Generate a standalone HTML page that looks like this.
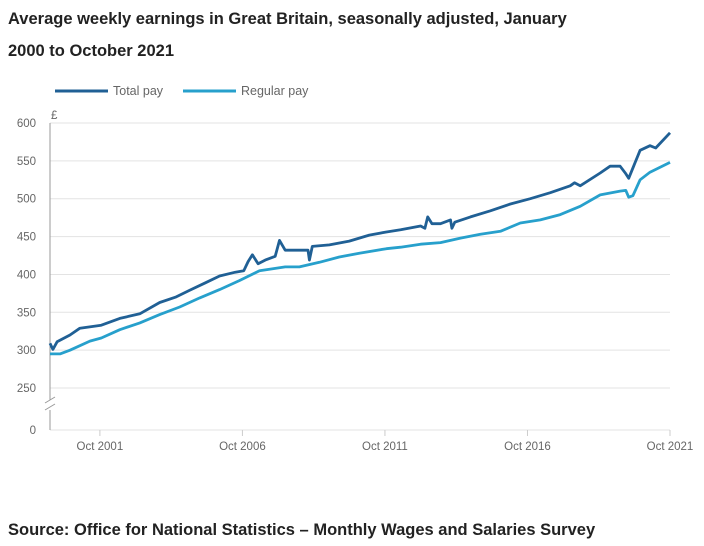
<!DOCTYPE html>
<html><head><meta charset="utf-8"><style>
body{margin:0;background:#fff;font-family:"Liberation Sans",sans-serif;}
#wrap{position:relative;width:704px;height:546px;overflow:hidden;}
.title{position:absolute;left:8px;font-size:16.5px;font-weight:bold;color:#222;}
.src{position:absolute;left:8px;top:521px;font-size:16.5px;font-weight:bold;color:#222;}
svg text{font-family:"Liberation Sans",sans-serif;font-size:11.5px;fill:#666;}
</style></head><body>
<div id="wrap">
<div class="title" style="top:10px">Average weekly earnings in Great Britain, seasonally adjusted, January</div>
<div class="title" style="top:42px">2000 to October 2021</div>
<svg id="chart" width="704" height="546" style="position:absolute;left:0;top:0"></svg>
<div class="src">Source: Office for National Statistics – Monthly Wages and Salaries Survey</div>
</div>
<script>
const totalDates=[2000.0,2000.1,2000.25,2000.7,2001.05,2001.8,2002.45,2003.15,2003.85,2004.4,2004.9,2005.45,2005.95,2006.5,2006.8,2006.95,2007.1,2007.3,2007.55,2007.9,2008.05,2008.25,2008.75,2009.05,2009.1,2009.2,2009.8,2010.5,2011.2,2011.8,2012.3,2013.0,2013.15,2013.25,2013.4,2013.7,2014.05,2014.1,2014.2,2014.75,2015.45,2016.15,2016.85,2017.55,2018.25,2018.4,2018.6,2019.3,2019.65,2020.0,2020.2,2020.3,2020.7,2021.05,2021.25,2021.75];
const totalPay=[309,301,311,320,329,333,342,348,363,370,379,389,398,403,405,417,426,414,419,424,445,432,432,432,419,437,439,444,452,456,459,464,461,476,467,467,472,461,469,476,484,493,500,508,517,521,517,534,543,543,533,527,564,570,567,587];
const regularDates=[2000.0,2000.35,2000.7,2001.4,2001.8,2002.45,2003.15,2003.85,2004.55,2005.25,2005.95,2006.65,2007.35,2008.25,2008.75,2009.45,2010.15,2010.85,2011.8,2012.3,2013.0,2013.7,2014.4,2015.1,2015.8,2016.5,2017.2,2017.9,2018.6,2019.3,2020.0,2020.2,2020.3,2020.45,2020.7,2021.05,2021.75];
const regularPay=[295,295,300,312,316,327,336,347,357,369,380,392,405,410,410,416,423,428,434,436,440,442,448,453,457,468,472,479,490,505,510,511,502,504,525,535,548];
const yTicks=[600,550,500,450,400,350,300,250];
const xTickDates=[2001.75,2006.75,2011.75,2016.75,2021.75];
const xTickLabels=["Oct 2001","Oct 2006","Oct 2011","Oct 2016","Oct 2021"];
const NS="http://www.w3.org/2000/svg";
const svg=document.getElementById('chart');
const x0=50,x1=670,t0=2000.0,t1=2021.75;
function xs(t){return x0+(t-t0)/(t1-t0)*(x1-x0);}
function ys(v){return 123+(600-v)/50*37.86;}
function mk(tag,attrs){const e=document.createElementNS(NS,tag);for(const k in attrs)e.setAttribute(k,attrs[k]);svg.appendChild(e);return e;}
yTicks.forEach(v=>{
 const l=mk('line',{x1:x0,x2:x1,y1:ys(v),y2:ys(v),stroke:'#e3e3e3','stroke-width':1});
 
 
 const t=mk('text',{x:36,y:ys(v)+4,'text-anchor':'end'});t.textContent=v;
 
 
});
const z=mk('text',{x:36,y:434,'text-anchor':'end'});z.textContent='0';


const base=mk('line',{x1:x0,x2:x1,y1:430,y2:430,stroke:'#e3e3e3','stroke-width':1});


const ax1=mk('line',{x1:x0,x2:x0,y1:123,y2:400,stroke:'#999','stroke-width':1});


const ax2=mk('line',{x1:x0,x2:x0,y1:410,y2:430,stroke:'#999','stroke-width':1});


const br=mk('path',{d:'M45 403 L55 397 M45 410 L55 404',stroke:'#999','stroke-width':1,fill:'none'});


const pd=mk('text',{x:51,y:119});pd.textContent='£';


xTickDates.forEach((d,i)=>{
 const l=mk('line',{x1:xs(d),x2:xs(d),y1:430,y2:436,stroke:'#ccc'});
 
 
 const t=mk('text',{x:xs(d),y:450,'text-anchor':'middle'});t.textContent=xTickLabels[i];
 
 
});
function series(dates,vals,color,name){
 const d=dates.map((t,i)=>(i?'L':'M')+xs(t).toFixed(1)+' '+ys(vals[i]).toFixed(1)).join(' ');
 const p=mk('path',{d:d,stroke:color,'stroke-width':2.8,fill:'none','stroke-linejoin':'round'});
 
 
}
series(regularDates,regularPay,'#27a0cc','regular-pay-line');
series(totalDates,totalPay,'#206095','total-pay-line');
const legend=[['Total pay','#206095',55],['Regular pay','#27a0cc',183]];
legend.forEach(([lab,c,x])=>{
 const l=mk('line',{x1:x,x2:x+53,y1:91,y2:91,stroke:c,'stroke-width':3});
 
 
 const t=mk('text',{x:x+58,y:95});t.textContent=lab;t.setAttribute('style','font-size:12.5px');
 
 
});
</script>
</body></html>
